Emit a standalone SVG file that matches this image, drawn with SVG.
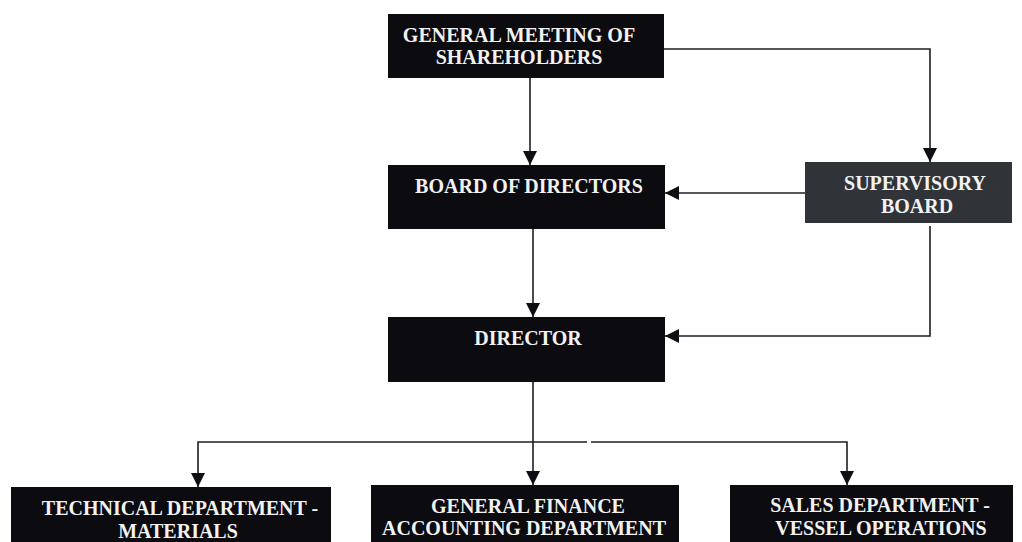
<svg xmlns="http://www.w3.org/2000/svg" width="1022" height="542" viewBox="0 0 1022 542">
  <defs>
    <style>
      .box { fill: #0b0b10; }
      .box.grey { fill: #303338; }
      .label { font-family: "Liberation Serif", "Times New Roman", serif; font-weight: bold; font-size: 20px; fill: #f2f2f2; text-anchor: middle; }
      .wire { fill: none; stroke: #1e1e24; stroke-width: 1.6; }
    </style>
    <marker id="arrow" viewBox="0 0 14 14" refX="14" refY="7" markerWidth="14" markerHeight="14" markerUnits="userSpaceOnUse" orient="auto">
      <path d="M0,0 L14,7 L0,14 z" fill="#0e0e14"/>
    </marker>
  </defs>

  <rect width="1022" height="542" fill="#ffffff"/>

  <!-- connectors -->
  <g id="connectors">
    <path class="wire" d="M530 78 V165" marker-end="url(#arrow)"/>
    <path class="wire" d="M664 49 H930 V162" marker-end="url(#arrow)"/>
    <path class="wire" d="M805 193 H665" marker-end="url(#arrow)"/>
    <path class="wire" d="M533 229 V317" marker-end="url(#arrow)"/>
    <path class="wire" d="M930 226 V336 H665" marker-end="url(#arrow)"/>
    <path class="wire" d="M533 382 V485" marker-end="url(#arrow)"/>
    <path class="wire" d="M587 442 H198 V487" marker-end="url(#arrow)"/>
    <path class="wire" d="M591 442 H847 V485" marker-end="url(#arrow)"/>
  </g>

  <!-- nodes -->
  <g id="general-meeting">
    <rect class="box" x="388" y="14" width="276" height="64"/>
    <text class="label" x="519" y="42">GENERAL MEETING OF</text>
    <text class="label" x="519" y="64">SHAREHOLDERS</text>
  </g>

  <g id="board-of-directors">
    <rect class="box" x="388" y="165" width="277" height="64"/>
    <text class="label" x="529" y="193">BOARD OF DIRECTORS</text>
  </g>

  <g id="supervisory-board">
    <rect class="box grey" x="805" y="162" width="207" height="61"/>
    <text class="label" x="915" y="190">SUPERVISORY</text>
    <text class="label" x="917" y="213">BOARD</text>
  </g>

  <g id="director">
    <rect class="box" x="388" y="317" width="277" height="65"/>
    <text class="label" x="528" y="345">DIRECTOR</text>
  </g>

  <g id="technical-department">
    <rect class="box" x="11" y="487" width="320" height="60"/>
    <text class="label" x="180" y="515">TECHNICAL DEPARTMENT -</text>
    <text class="label" x="178" y="538">MATERIALS</text>
  </g>

  <g id="finance-accounting">
    <rect class="box" x="371" y="485" width="308" height="62"/>
    <text class="label" x="528" y="513">GENERAL FINANCE</text>
    <text class="label" x="524" y="535">ACCOUNTING DEPARTMENT</text>
  </g>

  <g id="sales-department">
    <rect class="box" x="730" y="485" width="283" height="62"/>
    <text class="label" x="880" y="512">SALES DEPARTMENT -</text>
    <text class="label" x="881" y="535">VESSEL OPERATIONS</text>
  </g>
</svg>
